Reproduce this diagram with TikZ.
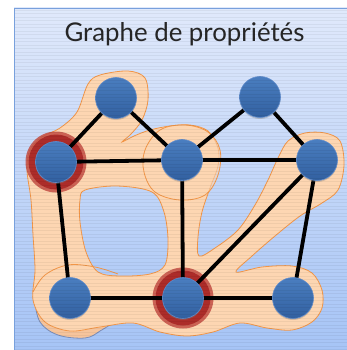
\documentclass[tikz,border=0pt]{standalone}
\usepackage{fontspec}
\setmainfont{Lato}
\usetikzlibrary{shadows}
\definecolor{bgtop}{RGB}{224,233,251}
\definecolor{bgbot}{RGB}{166,196,246}
\definecolor{bgedge}{RGB}{120,160,220}
\definecolor{peach}{RGB}{253,214,178}
\definecolor{peachdark}{RGB}{246,196,156}
\definecolor{blobline}{RGB}{242,150,72}
\definecolor{shadowline}{RGB}{120,140,185}
\definecolor{nodetop}{RGB}{74,126,192}
\definecolor{nodebot}{RGB}{50,96,160}
\definecolor{nodeedge}{RGB}{95,140,205}
\definecolor{ringout}{RGB}{196,78,68}
\definecolor{ringin}{RGB}{170,40,38}
\pgfdeclarelayer{back}
\pgfdeclarelayer{edgelayer}
\pgfdeclarelayer{front}
\pgfsetlayers{back,edgelayer,main,front}
\tikzset{
  vertex/.style={circle, minimum size=41pt, inner sep=0pt, top color=nodetop, bottom color=nodebot, draw=nodeedge, line width=0.6pt,
    drop shadow={shadow xshift=0pt, shadow yshift=-1.5pt, opacity=0.35}},
  ring/.style={circle, minimum size=61pt, inner sep=0pt, fill=ringout, opacity=0.85},
  ringcore/.style={circle, minimum size=55pt, inner sep=0pt, fill=ringin, opacity=0.92},
  edgeline/.style={line width=3.8pt, black},
  blob/.style={fill=peach, draw=blobline, line width=0.8pt},
}
\begin{document}
\begin{tikzpicture}[x=1pt,y=-1pt]
\useasboundingbox (0,0) rectangle (347,350);
% vertices
\node[vertex] (a) at (116,98) {};
\node[vertex] (b) at (260,97) {};
\node[vertex] (c) at (56,162) {};
\node[vertex] (d) at (182,160) {};
\node[vertex] (e) at (317,160) {};
\node[vertex] (f) at (70,298) {};
\node[vertex] (g) at (183,298) {};
\node[vertex] (h) at (293,298) {};
\begin{pgfonlayer}{back}
% panel
\fill[top color=bgtop, bottom color=bgbot] (14,8) rectangle (347,350);
\draw[bgedge, line width=1.2pt] (14.5,350) -- (14.5,8.5) -- (347,8.5);
% title
\node[anchor=base, font=\fontsize{25.8}{30}\selectfont, text=black!85] (title) at (184.5,42) {Graphe de propriétés};
% bottom shadow layer
\filldraw[fill=peachdark, draw=shadowline, line width=0.8pt, tension=0.6]
  plot[smooth cycle] coordinates {(36,300) (40,322) (58,335) (85,338) (100,331) (110,322) (80,318) (50,312)};
% main blob with hole
\filldraw[blob, even odd rule, tension=0.55]
  plot[smooth cycle] coordinates {(88,84) (100,75) (128,71) (145,78) (148,100) (142,120) (131,134) (122,142) (134,136) (150,130) (170,126) (190,125) (208,131) (218,148) (218,166) (210,188) (202,212) (198,237) (199,256) (215,248) (238,230) (255,205) (268,180) (278,158) (288,141) (305,133) (325,133) (340,141) (344,165) (338,190) (322,203) (300,216) (275,236) (252,256) (236,272) (262,267) (292,266) (312,273) (322,290) (322,308) (312,322) (292,330) (267,328) (240,323) (213,332) (187,336) (160,332) (133,323) (100,327) (70,331) (45,322) (33,300) (35,270) (33,235) (31,200) (27,170) (30,150) (42,137) (60,128) (77,112)}
  plot[smooth cycle] coordinates {(85,190) (117,186) (152,192) (164,212) (168,240) (165,265) (150,274) (120,276) (98,272) (86,252) (80,222) (80,200)};
% D blob
\filldraw[fill=peach, fill opacity=0.6, draw=blobline, line width=0.8pt, tension=0.6]
  plot[smooth cycle] coordinates {(145,150) (160,130) (185,125) (208,132) (220,150) (218,175) (205,195) (180,200) (155,192) (144,172)};
% bottom strip top outline
\draw[blobline, line width=0.8pt] plot[smooth, tension=0.6] coordinates {(33,292) (45,275) (68,265) (95,267) (118,274)};
% rings
\node[ring] (rc) at (c) {};
\node[ringcore] (rcc) at (c) {};
\node[ring] (rg) at (g) {};
\node[ringcore] (rgc) at (g) {};
\end{pgfonlayer}
\begin{pgfonlayer}{edgelayer}
\draw[edgeline] (a.center) -- (c.center);
\draw[edgeline] (a.center) -- (d.center);
\draw[edgeline] (b.center) -- (d.center);
\draw[edgeline] (b.center) -- (e.center);
\draw[edgeline] (c.center) -- (d.center);
\draw[edgeline] (d.center) -- (e.center);
\draw[edgeline] (c.center) -- (f.center);
\draw[edgeline] (d.center) -- (g.center);
\draw[edgeline] (e.center) -- (g.center);
\draw[edgeline] (e.center) -- (h.center);
\draw[edgeline] (f.center) -- (g.center);
\draw[edgeline] (g.center) -- (h.center);
\end{pgfonlayer}
\begin{pgfonlayer}{front}
\foreach \yy in {10,13.5,...,350} \draw[black, opacity=0.05, line width=0.7pt] (15,\yy) -- (347,\yy);
\end{pgfonlayer}
\end{tikzpicture}
\end{document}
